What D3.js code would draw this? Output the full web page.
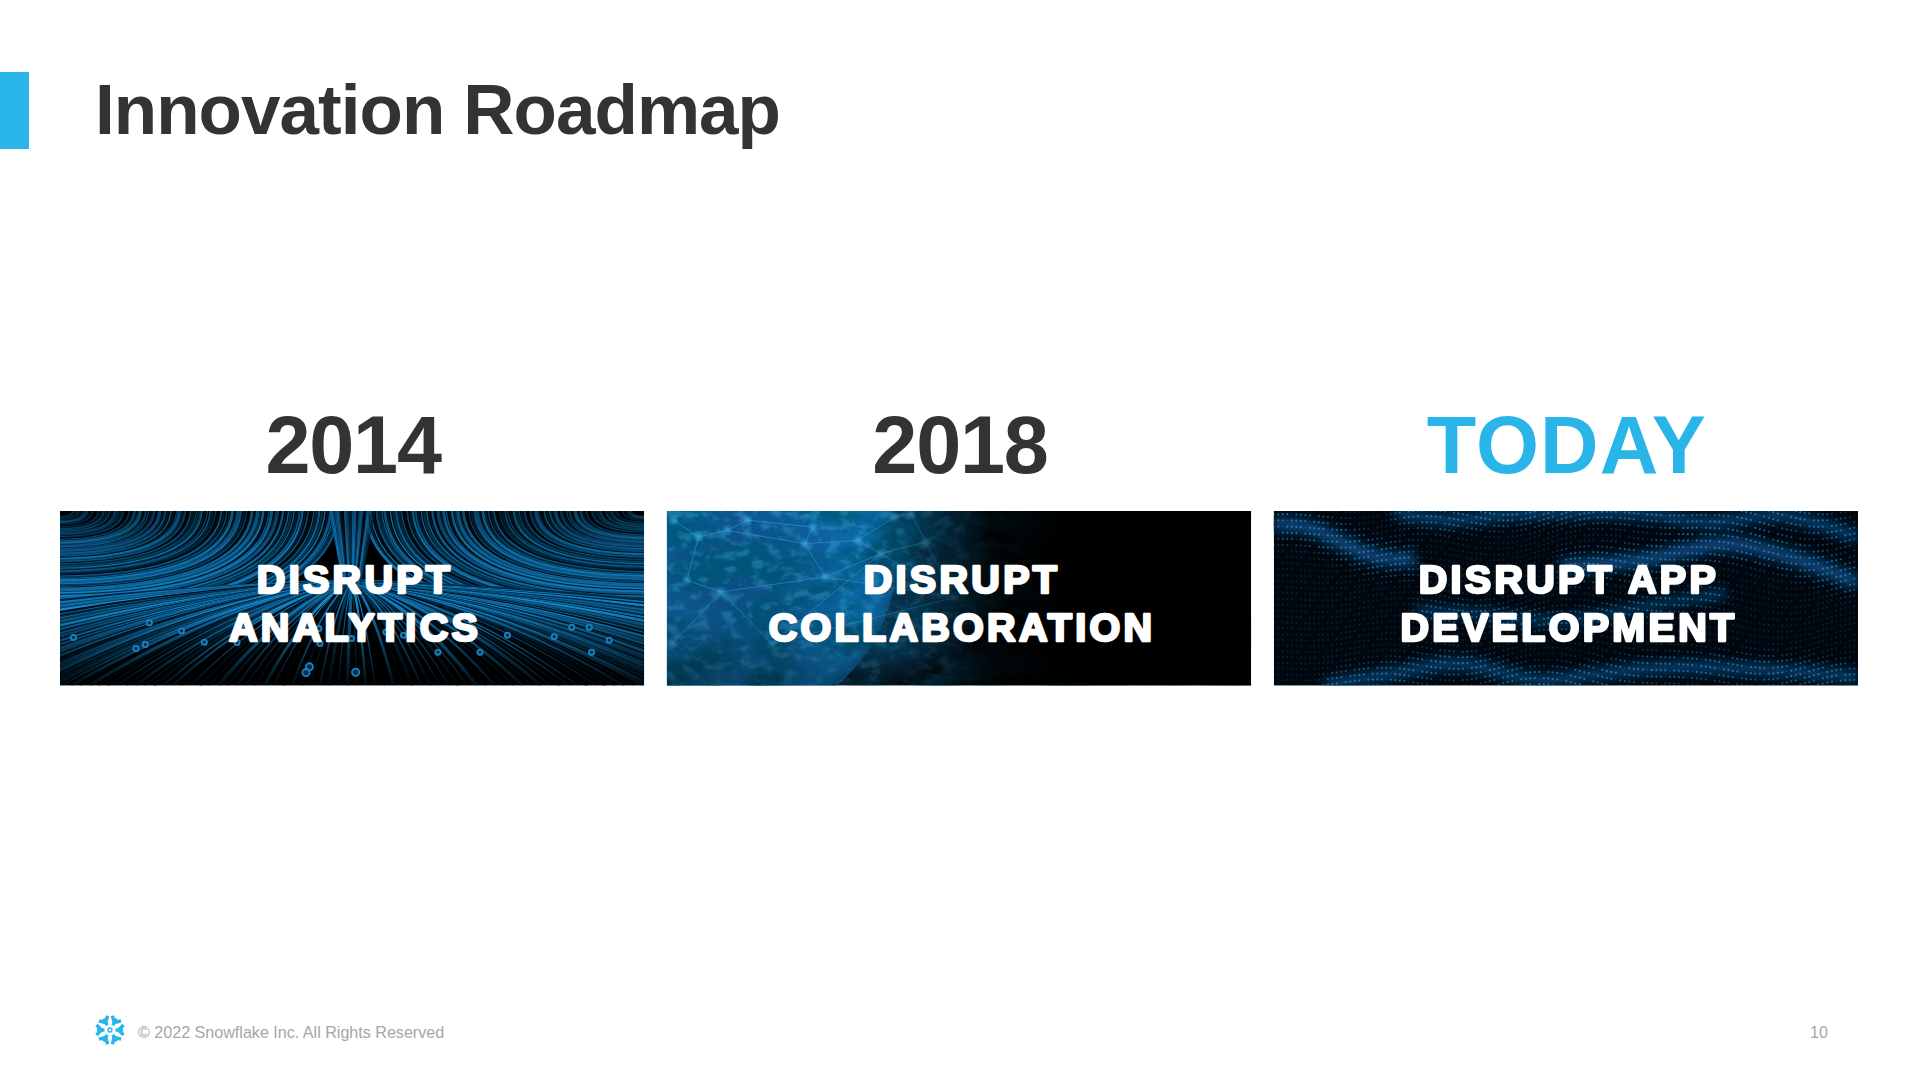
<!DOCTYPE html>
<html><head><meta charset="utf-8">
<script src="https://cdn.jsdelivr.net/npm/d3@7"></script>
<style>html,body{margin:0;padding:0;background:#fff}svg{display:block}</style>
</head><body><svg id="c" width="1920" height="1080"></svg>
<script>
const titleText = "Innovation Roadmap";
const periods = ["2014","2018","TODAY"];
const periodColors = ["#333333","#333333","#29b5e8"];
const bandLines = [["DISRUPT","ANALYTICS"],["DISRUPT","COLLABORATION"],["DISRUPT APP","DEVELOPMENT"]];
const footerText = "© 2022 Snowflake Inc. All Rights Reserved";
const pageNumber = "10";
// texture details (fractions of a panel)
const ringsU = [.023,.130,.146,.153,.208,.247,.303,.445,.443,.427,.421,.506,.499,.558,.588,.647,.719,.766,.846,.906,.876,.940,.910];
const ringsV = [.725,.788,.765,.641,.687,.752,.754,.760,.674,.893,.926,.924,.731,.693,.712,.809,.809,.712,.721,.666,.666,.740,.809];
const streakBlues = ["#0b78bc","#06405f","#1490d2","#031f33","#0e6aa6","#0a82ca","#042f4c","#0d5e94","#010a12","#1079bb","#052a44"];
const streakWidths = [1.7,2.9,1.2,3.6,2,2.4,1.4];
const netU = [.012,.054,.034,.103,.138,.236,.271,.327,.366,.443,.418,.492,.250,.093,.009,.180,.390];
const netV = [.053,.149,.397,.111,.053,.187,.378,.168,.244,.177,.015,.496,.092,.464,.760,.760,.034];
const netEdges = [[0,1],[1,3],[3,4],[1,2],[2,13],[3,5],[5,6],[5,7],[7,8],[8,9],[9,10],[8,6],[6,13],[6,11],[9,11],[13,14],[13,15],[15,8],[12,5],[12,4],[10,16],[16,7],[8,11],[11,15]];
const waves = [
 {u:[0,.065,.122,.172,.243],v:[.07,.10,.19,.26,.28],w:22},
 {u:[.207,.299,.42,.632,.746,.867,1],v:[.005,.05,.015,.015,.063,.025,.15],w:16},
 {u:[.49,.633,.775,.88,1],v:[.32,.28,.19,.26,.41],w:22},
 {u:[.087,.207,.313,.455,.562,.704,1],v:[1,.93,.875,.97,.93,.895,.95],w:16},
 {u:[.243,.349,.491,.633,.775],v:[.57,.59,.63,.55,.47],w:12}
];
const dotWaveA = [7,5,4], dotWaveK = [.011,.023,.041], dotWaveP = [.4,2.1,4.3];

const svg = d3.select("#c");
const defs = svg.append("defs");
const bandX = d3.scaleBand().domain(periods).range([60,1858]).paddingInner(.0375);
const bandTop = 511, bandH = 174.5, W = bandX.bandwidth();
const sx = d3.scaleLinear().domain([0,1]).range([0,W]);
const sy = d3.scaleLinear().domain([0,1]).range([0,bandH]);

// header
svg.append("rect").attr("x",0).attr("y",72).attr("width",29).attr("height",77).attr("fill","#29b5e8");
svg.append("text").attr("x",95).attr("y",134).attr("font-family","Liberation Sans").attr("font-weight",700)
   .attr("font-size",71).attr("letter-spacing",-.95).attr("fill","#333333").text(titleText);

// period labels
svg.selectAll(".period").data(periods).join("text").attr("class","period")
   .attr("x",d=>bandX(d)+W/2+1).attr("y",472.5).attr("text-anchor","middle")
   .attr("font-family","Liberation Sans").attr("font-weight",700).attr("font-size",81)
   .attr("letter-spacing",d=>d==="TODAY"?1.1:-1.2)
   .attr("fill",(d,i)=>periodColors[i]).text(d=>d);

// filters & gradients
const blur = (id,s)=>defs.append("filter").attr("id",id).attr("x","-20%").attr("y","-40%").attr("width","140%").attr("height","180%")
   .append("feGaussianBlur").attr("stdDeviation",s);
blur("b2",2); blur("b6",6); blur("b1",.6); blur("b05",.7); blur("b12",12);
const grad=(id,stops,x2=1,y2=0)=>{const g=defs.append("linearGradient").attr("id",id).attr("x1",0).attr("y1",0).attr("x2",x2).attr("y2",y2);
   stops.forEach(s=>g.append("stop").attr("offset",s[0]).attr("stop-color",s[1]).attr("stop-opacity",s[2]));};
grad("fade1",[[0,"#000",.28],[.22,"#000",.06],[.55,"#000",0],[.8,"#000",.5],[1,"#000",.9]],0,1);
grad("fade2",[[0,"#000",0],[.32,"#000",0],[.42,"#000",.25],[.55,"#000",.85],[.68,"#000",1],[1,"#000",1]]);
grad("fade2v",[[0,"#000",0],[.6,"#000",.1],[1,"#000",.42]],0,1);
const rg=defs.append("radialGradient").attr("id","globe").attr("gradientUnits","userSpaceOnUse").attr("cx",60).attr("cy",45).attr("r",170);
[[0,"#084f84"],[.55,"#0a629f"],[.92,"#0e7cc2"],[1,"#0a66a2"]].forEach(s=>rg.append("stop").attr("offset",s[0]).attr("stop-color",s[1]));
const tf=defs.append("filter").attr("id","land").attr("x",0).attr("y",0).attr("width","100%").attr("height","100%");
tf.append("feTurbulence").attr("type","fractalNoise").attr("baseFrequency",".016 .028").attr("numOctaves",5).attr("seed",11);
tf.append("feColorMatrix").attr("values","0 0 0 0 0  0 0 0 0 .1  0 0 0 0 .22  3.4 0 0 0 -1.3");
const tf2=defs.append("filter").attr("id","glint").attr("x",0).attr("y",0).attr("width","100%").attr("height","100%");
tf2.append("feTurbulence").attr("type","fractalNoise").attr("baseFrequency",".07 .1").attr("numOctaves",3).attr("seed",5);
tf2.append("feColorMatrix").attr("values","0 0 0 0 .08  0 0 0 0 .52  0 0 0 0 .88  4 0 0 0 -1.95");

const panels = svg.selectAll(".panel").data(periods).join("g").attr("class","panel")
   .attr("transform",d=>`translate(${bandX(d)},${bandTop})`);
panels.each(function(d,i){ defs.append("clipPath").attr("id","clip"+i).append("rect").attr("width",W).attr("height",bandH); });
const inner = panels.append("g").attr("clip-path",(d,i)=>`url(#clip${i})`);
inner.append("rect").attr("width",W).attr("height",bandH).attr("fill","#000");

// panel 1: light streaks
(function(g){
  const strokeAt=i=>streakBlues[i%streakBlues.length], widthAt=i=>streakWidths[i%streakWidths.length];
  const arc=[]; d3.range(0,96).forEach(i=>{const t=(i+.5)/96;arc.push({side:0,i,t});arc.push({side:1,i:i+4,t});});
  const streaks=g.append("g").attr("filter","url(#b05)");
  streaks.append("g").attr("fill","none").selectAll("path").data(arc).join("path")
   .attr("stroke",d=>strokeAt(d.i)).attr("stroke-width",d=>widthAt(d.i)).attr("opacity",d=>.55+.45*d.t)
   .attr("d",d=>{
     const u=.02+.46*d.t, v=.03+.62*d.t;
     const x0=d.side?1-u:u, cx=d.side?1-u*.97:u*.97, ex=d.side?1:0;
     return `M${sx(x0)},0Q${sx(cx)},${sy(v*.96)} ${sx(ex)},${sy(v)}`;
   });
  const vp=[.5,.40];
  const fanEnd=t=>{ // walk the panel's left, bottom and right edges
    const s=t*3;
    if(s<1) return [0,.5+.5*s];
    if(s<2) return [s-1,1];
    return [1,1-.5*(s-2)];
  };
  streaks.append("g").attr("fill","none").selectAll("path").data(d3.range(0,190)).join("path")
   .attr("stroke",i=>strokeAt(i*3)).attr("stroke-width",i=>widthAt(i)*.95).attr("opacity",.95)
   .attr("d",i=>{const e=fanEnd((i+.5)/190);
     return `M${sx(vp[0])},${sy(vp[1])}Q${sx((vp[0]+e[0])/2)},${sy(vp[1]+(e[1]-vp[1])*.22)} ${sx(e[0])},${sy(e[1])}`;});
  streaks.append("g").attr("fill","none").selectAll("path").data(d3.range(0,22)).join("path")
   .attr("stroke",i=>strokeAt(i*5)).attr("stroke-width",i=>widthAt(i)).attr("opacity",.8)
   .attr("d",i=>{const t=(i+.5)/22;return `M${sx(.46+.08*t)},0L${sx(.485+.03*t)},${sy(.42)}`;});
  g.append("rect").attr("width",W).attr("height",bandH).attr("fill","url(#fade1)");
  g.selectAll(".ring").data(ringsU).join("circle").attr("class","ring")
   .attr("cx",d=>sx(d)).attr("cy",(d,i)=>sy(ringsV[i])).attr("r",(d,i)=>ringsV[i]>.88?3.6:2.6)
   .attr("fill","#06304e").attr("stroke","#1a82c0").attr("stroke-width",1.8).attr("filter","url(#b1)");
})(inner.filter((d,i)=>i===0));

// panel 2: globe
(function(g){
  g.append("ellipse").attr("cx",sx(.36)).attr("cy",sy(.35)).attr("rx",120).attr("ry",110).attr("fill","#085a90").attr("opacity",.7).attr("filter","url(#b12)");
  g.append("circle").attr("cx",60).attr("cy",45).attr("r",170).attr("fill","url(#globe)").attr("filter","url(#b1)");
  g.append("rect").attr("width",W).attr("height",bandH).attr("filter","url(#land)");
  g.append("rect").attr("width",W).attr("height",bandH).attr("filter","url(#glint)").attr("opacity",.3);
  const net=g.append("g").attr("fill","none").attr("stroke","#35a4e0").attr("stroke-width",.9).attr("opacity",.65);
  net.selectAll("line").data(netEdges).join("line")
   .attr("x1",d=>sx(netU[d[0]])).attr("y1",d=>sy(netV[d[0]])).attr("x2",d=>sx(netU[d[1]])).attr("y2",d=>sy(netV[d[1]]));
  g.selectAll(".node").data(netU).join("circle").attr("class","node").attr("cx",d=>sx(d)).attr("cy",(d,i)=>sy(netV[i]))
   .attr("r",3).attr("fill","#3fb4f0").attr("filter","url(#b2)");
  g.append("rect").attr("width",W).attr("height",bandH).attr("fill","url(#fade2v)");
  g.append("rect").attr("width",W).attr("height",bandH).attr("fill","url(#fade2)");
})(inner.filter((d,i)=>i===1));

// panel 3: wave of digits
(function(g){
  const waveLine=d3.line().curve(d3.curveCatmullRom.alpha(.5));
  const wavePath=w=>waveLine(w.u.map((u,i)=>[sx(u),sy(w.v[i])]));
  const m=defs.append("mask").attr("id","waveMask").attr("maskUnits","userSpaceOnUse").attr("x",0).attr("y",0).attr("width",W).attr("height",bandH);
  m.append("rect").attr("width",W).attr("height",bandH).attr("fill","#2a2a2a");
  m.append("g").attr("fill","none").attr("stroke","#aaa").attr("filter","url(#b6)").selectAll("path").data(waves).join("path")
   .attr("d",wavePath).attr("stroke-width",d=>d.w*1.6);
  g.append("rect").attr("width",W).attr("height",bandH).attr("fill","#01070e");
  g.append("g").attr("fill","none").attr("stroke","#07528e").attr("filter","url(#b6)").selectAll("path").data(waves).join("path")
   .attr("d",wavePath).attr("stroke-width",d=>d.w*.55).attr("opacity",.95);
  const p=d3.path();
  d3.range(0,34).forEach(r=>d3.range(0,132).forEach(c=>{
    const x=c*4.5, base=r*6-6;
    const y=base+d3.sum(dotWaveA,(a,i)=>a*Math.sin(x*dotWaveK[i]+dotWaveP[i]+r*.07));
    p.moveTo(x+1,y); p.arc(x,y,(c+r)%5===0?.4:1,0,6.283);
  }));
  g.append("path").attr("d",p.toString()).attr("fill","#2f97dc").attr("mask","url(#waveMask)");
})(inner.filter((d,i)=>i===2));

// panel captions
panels.each(function(d,i){
  d3.select(this).selectAll(".cap").data(bandLines[i]).join("text").attr("class","cap")
    .attr("x",W/2+3).attr("y",(t,k)=>593-bandTop+k*48).attr("text-anchor","middle")
    .attr("font-family","Liberation Sans").attr("font-weight",700).attr("font-size",39.5)
    .attr("letter-spacing",3.3).attr("fill","#fff").attr("stroke","#fff").attr("stroke-width",2.6)
    .attr("stroke-linejoin","round").text(t=>t);
});

// footer
const logo=svg.append("g").attr("transform","translate(110,1030)").attr("fill","none").attr("stroke","#29b5e8").attr("stroke-linecap","butt").attr("stroke-linejoin","miter");
logo.selectAll(".arm").data(d3.range(0,360,60)).join("g").attr("class","arm").attr("transform",d=>`rotate(${d})`)
   .each(function(){const a=d3.select(this);
     a.append("path").attr("d","M5.5,0L13,0").attr("stroke-width",3.4);
     a.append("path").attr("d","M13.5,-5L8.5,0L13.5,5").attr("stroke-width",3.4);
   });
logo.append("circle").attr("r",2).attr("stroke-width",1.3);
svg.append("text").attr("x",138).attr("y",1037.5).attr("font-family","Liberation Sans").attr("font-size",16.1).attr("fill","#a6a6a6").text(footerText);
svg.append("text").attr("x",1810).attr("y",1038).attr("font-family","Liberation Sans").attr("font-size",16).attr("fill","#a6a6a6").text(pageNumber);
</script></body></html>
